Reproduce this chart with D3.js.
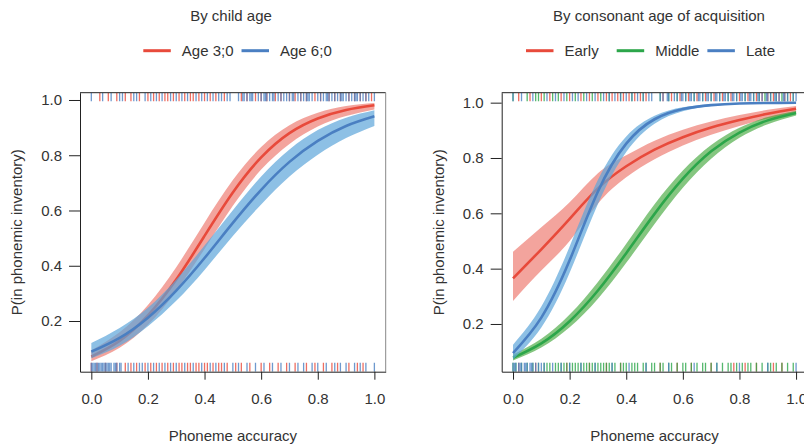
<!DOCTYPE html>
<html>
<head>
<meta charset="utf-8">
<script src="https://cdn.jsdelivr.net/npm/d3@7"></script>
<style>
  body { margin: 0; background: #fff; }
  svg  { display: block; font-family: "Liberation Sans", Arial, sans-serif; }
</style>
</head>
<body>
<svg id="chart" width="804" height="447"></svg>
<script>
// ── Data ───────────────────────────────────────────────────────────────────
const accuracy = [0, 0.1, 0.2, 0.3, 0.4, 0.5, 0.6, 0.7, 0.8, 0.9, 1.0];
const yTicks   = [0.2, 0.4, 0.6, 0.8, 1.0];
const xTicks   = [0, 0.2, 0.4, 0.6, 0.8, 1.0];

// Panel 1: by child age
const ageGroups = ['Age 3;0', 'Age 6;0'];
const age3Fit = [0.071, 0.128, 0.220, 0.350, 0.508, 0.665, 0.792, 0.880, 0.933, 0.964, 0.981];
const age3Lo  = [0.054, 0.103, 0.186, 0.309, 0.461, 0.617, 0.748, 0.841, 0.904, 0.942, 0.966];
const age3Hi  = [0.094, 0.159, 0.258, 0.395, 0.556, 0.710, 0.830, 0.909, 0.954, 0.978, 0.989];
const age6Fit = [0.089, 0.139, 0.212, 0.310, 0.428, 0.555, 0.675, 0.776, 0.852, 0.906, 0.941];
const age6Lo  = [0.065, 0.110, 0.181, 0.273, 0.385, 0.508, 0.622, 0.723, 0.802, 0.862, 0.906];
const age6Hi  = [0.120, 0.175, 0.248, 0.350, 0.473, 0.601, 0.723, 0.821, 0.891, 0.936, 0.963];

// Panel 2: by consonant age of acquisition
const aoaGroups = ['Early', 'Middle', 'Late'];
const earlyFit  = [0.365, 0.470, 0.580, 0.690, 0.770, 0.830, 0.875, 0.910, 0.937, 0.960, 0.978];
const earlyLo   = [0.283, 0.393, 0.500, 0.635, 0.730, 0.795, 0.845, 0.884, 0.916, 0.943, 0.963];
const earlyHi   = [0.461, 0.550, 0.640, 0.745, 0.810, 0.862, 0.902, 0.932, 0.955, 0.974, 0.988];
const middleFit = [0.078, 0.130, 0.210, 0.321, 0.456, 0.598, 0.725, 0.824, 0.892, 0.936, 0.963];
const middleLo  = [0.068, 0.115, 0.188, 0.291, 0.421, 0.561, 0.692, 0.797, 0.873, 0.922, 0.954];
const middleHi  = [0.090, 0.147, 0.234, 0.352, 0.490, 0.633, 0.755, 0.847, 0.909, 0.948, 0.970];
const lateFit   = [0.095, 0.223, 0.430, 0.679, 0.852, 0.940, 0.977, 0.991, 0.9967, 0.9988, 0.9995];
const lateLo    = [0.072, 0.187, 0.385, 0.634, 0.822, 0.924, 0.969, 0.988, 0.995, 0.998, 0.9985];
const lateHi    = [0.125, 0.263, 0.480, 0.721, 0.878, 0.953, 0.983, 0.994, 0.998, 0.999, 1.000];

// Rugs: observed phoneme accuracy, top = in inventory, bottom = not
const rugTopAge3 = [0.03, 0.06, 0.09, 0.12, 0.14, 0.17, 0.2, 0.22, 0.24, 0.26, 0.27, 0.29, 0.31, 0.33, 0.35,
  0.36, 0.38, 0.4, 0.42, 0.44, 0.47, 0.53, 0.55, 0.58, 0.6, 0.62, 0.65, 0.67, 0.7, 0.72, 0.74, 0.76, 0.79,
  0.81, 0.84, 0.86, 0.88, 0.91, 0.93, 0.95, 0.97, 0.99];
const rugTopAge6 = [0.0, 0.04, 0.07, 0.1, 0.11, 0.15, 0.16, 0.19, 0.21, 0.23, 0.25, 0.28, 0.3, 0.32, 0.34,
  0.37, 0.39, 0.41, 0.43, 0.45, 0.46, 0.48, 0.49, 0.52, 0.535, 0.54, 0.55, 0.56, 0.565, 0.57, 0.59, 0.6,
  0.61, 0.615, 0.62, 0.63, 0.64, 0.645, 0.66, 0.67, 0.68, 0.69, 0.7, 0.71, 0.715, 0.73, 0.74, 0.75, 0.76,
  0.765, 0.77, 0.78, 0.8, 0.81, 0.82, 0.83, 0.835, 0.84, 0.85, 0.86, 0.87, 0.88, 0.885, 0.89, 0.9, 0.91,
  0.92, 0.93, 0.935, 0.94, 0.95, 0.96, 0.97, 0.98, 1.0];
const rugBotAge3 = [0.0, 0.02, 0.05, 0.09, 0.12, 0.14, 0.16, 0.19, 0.21, 0.23, 0.25, 0.27, 0.29, 0.31, 0.32,
  0.34, 0.35, 0.37, 0.38, 0.4, 0.41, 0.43, 0.45, 0.46, 0.48, 0.51, 0.53, 0.56, 0.6, 0.63, 0.66, 0.69, 0.72,
  0.76, 0.79, 0.82, 0.85, 0.87, 0.91, 0.94, 0.96];
const rugBotAge6 = [0.0, 0.005, 0.01, 0.015, 0.02, 0.025, 0.03, 0.035, 0.04, 0.045, 0.05, 0.055, 0.06, 0.065,
  0.07, 0.08, 0.085, 0.09, 0.1, 0.105, 0.13, 0.15, 0.17, 0.18, 0.2, 0.22, 0.24, 0.26, 0.28, 0.3, 0.33, 0.36,
  0.39, 0.42, 0.44, 0.47, 0.5, 0.52, 0.55, 0.58, 0.61, 0.64, 0.67, 0.7, 0.73, 0.75, 0.78, 0.8, 0.83, 0.86,
  0.88, 0.9, 0.93, 0.95, 0.97, 1.0];

const rugTopEarly = [0.02, 0.06, 0.1, 0.13, 0.17, 0.2, 0.24, 0.27, 0.3, 0.33, 0.35, 0.37, 0.39, 0.41, 0.43,
  0.45, 0.47, 0.53, 0.56, 0.59, 0.62, 0.65, 0.68, 0.71, 0.74, 0.77, 0.8, 0.83, 0.86, 0.88, 0.9, 0.92, 0.94,
  0.96, 0.98];
const rugTopMiddle = [0.0, 0.05, 0.08, 0.09, 0.11, 0.14, 0.16, 0.19, 0.22, 0.25, 0.28, 0.31, 0.34, 0.38, 0.42,
  0.46, 0.52, 0.55, 0.58, 0.61, 0.64, 0.67, 0.7, 0.73, 0.76, 0.79, 0.82, 0.85, 0.87, 0.89, 0.91, 0.93, 0.95,
  0.97, 0.99];
const rugTopLate = [0.0, 0.03, 0.07, 0.12, 0.15, 0.18, 0.21, 0.23, 0.26, 0.29, 0.32, 0.34, 0.36, 0.38, 0.4,
  0.42, 0.44, 0.46, 0.48, 0.49, 0.52, 0.53, 0.545, 0.55, 0.57, 0.58, 0.595, 0.6, 0.61, 0.625, 0.63, 0.64,
  0.655, 0.66, 0.67, 0.685, 0.69, 0.7, 0.715, 0.72, 0.73, 0.745, 0.75, 0.76, 0.775, 0.78, 0.79, 0.805, 0.81,
  0.82, 0.835, 0.84, 0.85, 0.865, 0.87, 0.88, 0.895, 0.9, 0.91, 0.925, 0.93, 0.94, 0.955, 0.96, 0.97, 0.99, 1.0];
const rugBotEarly = [0.02, 0.08, 0.19, 0.27, 0.33, 0.38, 0.52, 0.58, 0.63, 0.7, 0.78, 0.82, 0.86, 0.92, 0.95];
const rugBotMiddle = [0.0, 0.01, 0.03, 0.05, 0.07, 0.09, 0.11, 0.12, 0.13, 0.15, 0.16, 0.17, 0.18, 0.19, 0.2,
  0.21, 0.22, 0.23, 0.24, 0.25, 0.26, 0.27, 0.28, 0.29, 0.3, 0.31, 0.32, 0.33, 0.34, 0.35, 0.36, 0.38, 0.39,
  0.4, 0.42, 0.43, 0.44, 0.46, 0.47, 0.49, 0.5, 0.52, 0.53, 0.55, 0.56, 0.58, 0.6, 0.61, 0.63, 0.65, 0.67,
  0.68, 0.7, 0.72, 0.74, 0.76, 0.77, 0.79, 0.81, 0.83, 0.84, 0.86, 0.88, 0.9, 0.91, 0.93, 0.95, 0.97, 0.99];
const rugBotLate = [0.0, 0.005, 0.01, 0.02, 0.025, 0.03, 0.04, 0.045, 0.05, 0.06, 0.065, 0.07, 0.08, 0.09,
  0.1, 0.11, 0.14, 0.17, 0.2, 0.24, 0.29, 0.35, 0.41, 0.47, 0.55, 0.64, 0.72, 0.8, 0.9, 1.0];

// ── Styling ─────────────────────────────────────────────────────────────────
const RED   = { line: '#e84a3b', band: '#e84a3b', bandOpacity: 0.5 };
const BLUE  = { line: '#4a7fc2', band: '#5da5da', bandOpacity: 0.7 };
const GREEN = { line: '#2ca64a', band: '#33a02c', bandOpacity: 0.6 };

const plotTop = 92.7, plotBottom = 371.7, plotWidth = 305.7;
const textColor = '#333';
const axisColor = '#222';

const panels = [
  {
    title: 'By child age', titleX: 231, left: 80, legendX: 143.3,
    yDomain: [0.0165, 1.0264],
    series: [
      { name: ageGroups[0], style: RED,  fit: age3Fit, lo: age3Lo, hi: age3Hi },
      { name: ageGroups[1], style: BLUE, fit: age6Fit, lo: age6Lo, hi: age6Hi },
    ],
    rugTop:    [[rugTopAge3, RED], [rugTopAge6, BLUE]],
    rugBottom: [[rugBotAge3, RED], [rugBotAge6, BLUE]],
    rightBorder: true,
  },
  {
    title: 'By consonant age of acquisition', titleX: 659, left: 501.7, legendX: 526,
    yDomain: [0.0275, 1.036],
    series: [
      { name: aoaGroups[0], style: RED,   fit: earlyFit,  lo: earlyLo,  hi: earlyHi },
      { name: aoaGroups[1], style: GREEN, fit: middleFit, lo: middleLo, hi: middleHi },
      { name: aoaGroups[2], style: BLUE,  fit: lateFit,   lo: lateLo,   hi: lateHi },
    ],
    rugTop:    [[rugTopEarly, RED], [rugTopMiddle, GREEN], [rugTopLate, BLUE]],
    rugBottom: [[rugBotEarly, RED], [rugBotMiddle, GREEN], [rugBotLate, BLUE]],
    rightBorder: false,
  },
];

const svg = d3.select('#chart');

panels.forEach((p, i) => {
  const x = d3.scaleLinear().domain([-0.04, 1.04]).range([p.left, p.left + plotWidth]);
  const y = d3.scaleLinear().domain(p.yDomain).range([plotBottom, plotTop]);

  const g = svg.append('g').attr('class', 'panel');

  // clip
  const clipId = 'clip' + i;
  svg.append('clipPath').attr('id', clipId)
    .append('rect')
    .attr('x', p.left).attr('y', plotTop)
    .attr('width', plotWidth).attr('height', plotBottom - plotTop);

  const plot = g.append('g').attr('clip-path', `url(#${clipId})`);

  // ── bands + fit lines ──
  const area = d3.area()
    .x((d, k) => x(accuracy[k]))
    .y0(d => y(d[0]))
    .y1(d => y(d[1]))
    .curve(d3.curveNatural);
  const line = d3.line()
    .x((d, k) => x(accuracy[k]))
    .y(d => y(d))
    .curve(d3.curveNatural);

  p.series.forEach(s => {
    plot.append('path')
      .attr('d', area(s.lo.map((v, k) => [v, s.hi[k]])))
      .attr('fill', s.style.band)
      .attr('fill-opacity', s.style.bandOpacity);
    plot.append('path')
      .attr('d', line(s.fit))
      .attr('fill', 'none')
      .attr('stroke', s.style.line)
      .attr('stroke-width', 2.6);
  });

  // ── rugs ──
  const rugLen = 8.5;
  p.rugTop.forEach(([vals, st]) => {
    plot.append('g').selectAll('line').data(vals).join('line')
      .attr('x1', d => x(d)).attr('x2', d => x(d))
      .attr('y1', plotTop).attr('y2', plotTop + rugLen)
      .attr('stroke', st.line).attr('stroke-width', 1.3).attr('stroke-opacity', 0.8);
  });
  p.rugBottom.forEach(([vals, st]) => {
    plot.append('g').selectAll('line').data(vals).join('line')
      .attr('x1', d => x(d)).attr('x2', d => x(d))
      .attr('y1', plotBottom - rugLen - 0.5).attr('y2', plotBottom)
      .attr('stroke', st.line).attr('stroke-width', 1.3).attr('stroke-opacity', 0.8);
  });

  // ── frame ──
  g.append('line')
    .attr('x1', p.left).attr('x2', p.left + plotWidth)
    .attr('y1', plotTop).attr('y2', plotTop)
    .attr('stroke', axisColor).attr('stroke-width', 1);
  if (p.rightBorder) {
    g.append('line')
      .attr('x1', p.left + plotWidth).attr('x2', p.left + plotWidth)
      .attr('y1', plotTop).attr('y2', plotBottom)
      .attr('stroke', '#888').attr('stroke-width', 1);
  }

  // ── axes ──
  const yAxis = g.append('g')
    .attr('transform', `translate(${p.left},0)`)
    .call(d3.axisLeft(y).tickValues(yTicks).tickFormat(d3.format('.1f'))
      .tickSize(11).tickSizeOuter(0).tickPadding(7));
  const xAxis = g.append('g')
    .attr('transform', `translate(0,${plotBottom})`)
    .call(d3.axisBottom(x).tickValues(xTicks).tickFormat(d3.format('.1f'))
      .tickSize(8).tickSizeOuter(0).tickPadding(14));
  [yAxis, xAxis].forEach(ax => {
    ax.attr('font-family', null).attr('font-size', null);
    ax.selectAll('.domain, .tick line').attr('stroke', axisColor);
    ax.selectAll('.tick text').attr('fill', textColor).style('font-size', '15px');
  });

  const cx = p.left + plotWidth / 2;
  g.append('text')
    .attr('x', cx).attr('y', 440.5)
    .attr('text-anchor', 'middle')
    .attr('fill', textColor).style('font-size', '15px')
    .text('Phoneme accuracy');
  g.append('text')
    .attr('transform', `translate(${p.left - 58},${(plotTop + plotBottom) / 2}) rotate(-90)`)
    .attr('text-anchor', 'middle')
    .attr('fill', textColor).style('font-size', '15px')
    .text('P(in phonemic inventory)');

  // ── title ──
  g.append('text')
    .attr('x', p.titleX).attr('y', 20.7)
    .attr('text-anchor', 'middle')
    .attr('fill', textColor).style('font-size', '15px')
    .text(p.title);

  // ── legend ──
  const lg = g.append('g').attr('class', 'legend');
  const labels = lg.selectAll('text.tmp').data(p.series).join('text')
    .style('font-size', '15px').text(d => d.name);
  const maxW = d3.max(labels.nodes(), n => n.getComputedTextLength());
  labels.remove();
  const pitch = maxW + 46.5;
  p.series.forEach((s, k) => {
    const lx = p.legendX + k * pitch;
    lg.append('line')
      .attr('x1', lx).attr('x2', lx + 27.5)
      .attr('y1', 50.7).attr('y2', 50.7)
      .attr('stroke', s.style.line).attr('stroke-width', 3);
    lg.append('text')
      .attr('x', lx + 38.5).attr('y', 56)
      .attr('fill', textColor).style('font-size', '15px')
      .text(s.name);
  });
});
</script>
</body>
</html>
